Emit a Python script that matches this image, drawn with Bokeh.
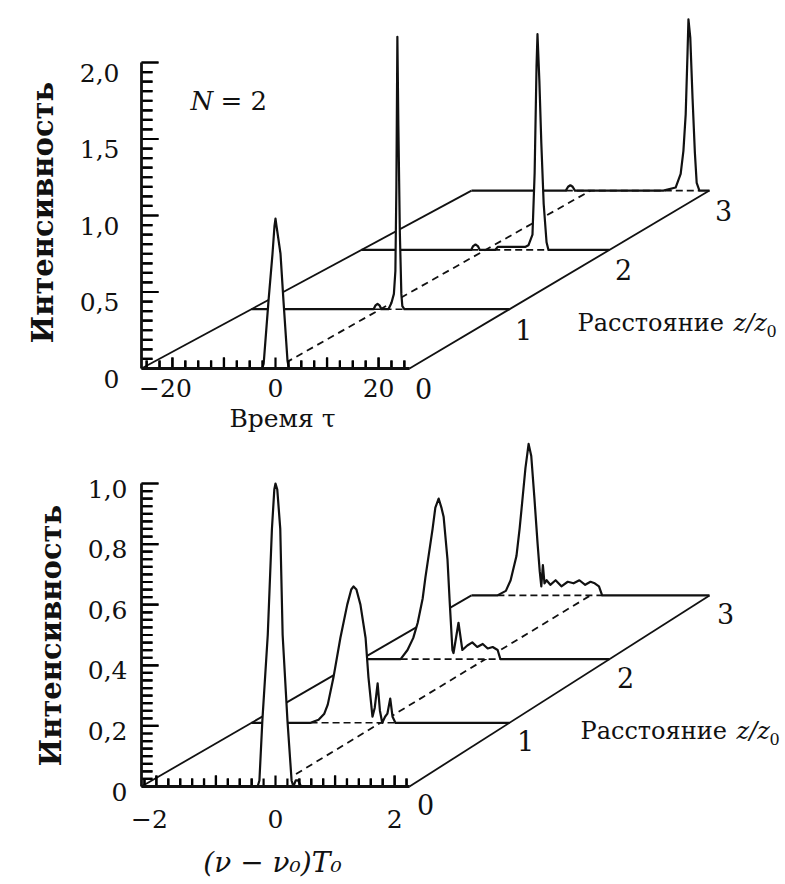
import numpy as np
from bokeh.plotting import figure
from bokeh.layouts import column
from bokeh.models import Range1d, ColumnDataSource
from bokeh.core.properties import value
from bokeh.embed import file_html
from bokeh.resources import INLINE

# ------------------------------------------------------------------ data
# Top panel: intensity vs time tau at distances z/z0 = 0..3 (N = 2)
top_z = [0, 1, 2, 3]
top_tau_z0 = [-2.6, -2.3, -1.36, -0.58, -0.2, 0.0, 0.2, 0.97, 1.55, 2.33, 2.6]
top_int_z0 = [0, 0.03, 0.44, 0.75, 0.93, 0.98, 0.93, 0.75, 0.44, 0.05, 0]
top_tau_z1 = [-1.4, -1.0, -0.6, -0.2, 0.2, 1.6, 2.2, 2.7, 3.0, 3.2, 3.4, 3.6, 3.9, 4.2, 4.4, 4.8]
top_int_z1 = [0, 0.025, 0.035, 0.025, 0, 0, 0.04, 0.1, 0.25, 0.8, 1.78, 1.2, 0.5, 0.1, 0.02, 0]
top_tau_z2 = [-3.0, -2.6, -2.1, -1.6, -1.2, 2.0, 2.6, 8.4, 9.0, 9.85, 10.3, 10.7, 10.9, 11.3, 11.7, 12.2, 12.8, 13.2]
top_int_z2 = [0, 0.025, 0.035, 0.025, 0, 0, 0.02, 0.02, 0.03, 0.1, 0.5, 1.2, 1.41, 1.1, 0.7, 0.3, 0.05, 0]
top_tau_z3 = [-5.4, -4.9, -4.4, -3.9, -3.4, 15.9, 18.6, 19.7, 20.3, 20.8, 21.2, 21.4, 21.8, 22.3, 22.8, 23.2, 23.8]
top_int_z3 = [0, 0.025, 0.035, 0.025, 0, 0, 0.02, 0.11, 0.26, 0.5, 0.9, 1.12, 1.0, 0.6, 0.25, 0.05, 0]
top_tau_range = [-26, 26]
top_tau_ticks = [-20, 0, 20]
top_tau_ticklabels = ["−20", "0", "20"]
top_int_ticks = [0, 0.5, 1.0, 1.5, 2.0]
top_int_ticklabels = ["0", "0,5", "1,0", "1,5", "2,0"]
top_z_ticklabels = ["0", "1", "2", "3"]

# Bottom panel: spectrum vs (nu - nu0)T0 at distances z/z0 = 0..3
bot_z = [0, 1, 2, 3]
bot_nu_z0 = [-0.30, -0.27, -0.22, -0.13, -0.06, -0.02, 0.0, 0.03, 0.08, 0.12, 0.20, 0.27, 0.30, 0.34, 0.38, 0.43]
bot_int_z0 = [0, 0.02, 0.22, 0.5, 0.85, 0.98, 1.0, 0.98, 0.85, 0.5, 0.22, 0.02, 0, 0.02, 0.02, 0]
bot_nu_z1 = [-1.22, -1.08, -0.98, -0.92, -0.82, -0.70, -0.58, -0.51, -0.47, -0.42, -0.35, -0.26,
             -0.21, -0.14, -0.10, -0.05, -0.01, 0.03, 0.08, 0.12, 0.17, 0.21, 0.26]
bot_int_z1 = [0, 0.01, 0.03, 0.06, 0.15, 0.28, 0.39, 0.44, 0.45, 0.44, 0.39, 0.28,
              0.15, 0.02, 0.05, 0.13, 0.04, 0.0, 0.02, 0.03, 0.08, 0.02, 0.0]
bot_nu_z2 = [-1.54, -1.415, -1.31, -1.23, -1.14, -1.09, -0.96, -0.91, -0.85, -0.80, -0.76, -0.69,
             -0.65, -0.60, -0.58, -0.49, -0.42, -0.33, -0.24, -0.15, -0.05, 0.04, 0.13, 0.22, 0.27]
bot_int_z2 = [0, 0.03, 0.07, 0.12, 0.2, 0.27, 0.43, 0.5, 0.53, 0.5, 0.47, 0.33,
              0.19, 0.03, 0.02, 0.12, 0.03, 0.045, 0.055, 0.04, 0.05, 0.035, 0.04, 0.03, 0]
bot_nu_z3 = [-1.76, -1.60, -1.51, -1.40, -1.34, -1.29, -1.23, -1.17, -1.12, -1.06, -1.0, -0.96,
             -0.93, -0.90, -0.87, -0.83, -0.76, -0.66, -0.55, -0.43, -0.32, -0.21, -0.10, 0.0,
             0.08, 0.16, 0.22]
bot_int_z3 = [0, 0.015, 0.05, 0.13, 0.22, 0.31, 0.42, 0.50, 0.46, 0.32, 0.17, 0.08,
              0.03, 0.10, 0.04, 0.05, 0.035, 0.05, 0.03, 0.045, 0.04, 0.05, 0.035, 0.045,
              0.04, 0.03, 0]
bot_nu_range = [-2.25, 2.25]
bot_nu_ticks = [-2, 0, 2]
bot_nu_ticklabels = ["−2", "0", "2"]
bot_int_ticks = [0, 0.2, 0.4, 0.6, 0.8, 1.0]
bot_int_ticklabels = ["0", "0,2", "0,4", "0,6", "0,8", "1,0"]
bot_z_ticklabels = ["0", "1", "2", "3"]

# ------------------------------------------------------------------ style / geometry
INK = "#111111"
SERIF = value("DejaVu Serif")
PAGE_W = 785

TOP = dict(sx=5.154, sy=153.0, dzx=105.0, dzy=59.3, shrink=0.1923, x0=275.0, y0=368.0,
           page_top=0, page_bottom=440, minor_x=2.5, major_x=10.0, minor_y=0.0625, major_y=0.5,
           ymax=2.0)
BOT = dict(sx=59.56, sy=303.0, dzx=105.0, dzy=63.7, shrink=2.222, x0=275.0, y0=786.0,
           page_top=440, page_bottom=884, minor_x=0.2, major_x=1.0, minor_y=0.025, major_y=0.2,
           ymax=1.0)


def proj(P, c, I, z):
    c = np.asarray(c, float)
    I = np.asarray(I, float)
    z = np.asarray(z, float)
    X = c * (1 - P["shrink"] * z / P["sx"]) + z * P["dzx"] / P["sx"]
    Y = I + z * P["dzy"] / P["sy"]
    return X, Y


def make_fig(P):
    h = P["page_bottom"] - P["page_top"]
    xr = Range1d((0 - P["x0"]) / P["sx"], (PAGE_W - P["x0"]) / P["sx"])
    yr = Range1d((P["y0"] - P["page_bottom"]) / P["sy"], (P["y0"] - P["page_top"]) / P["sy"])
    p = figure(width=PAGE_W, height=h, x_range=xr, y_range=yr, output_backend="svg",
               toolbar_location=None, x_axis_location=None, y_axis_location=None,
               min_border=0)
    p.grid.visible = False
    p.outline_line_color = None
    p.background_fill_color = "white"
    p.border_fill_color = "white"
    return p


def tick_source(P, crange):
    cmin, cmax = crange
    x0s, y0s, x1s, y1s = [], [], [], []
    n = int(round((cmax - cmin) / P["minor_x"]))
    for k in range(-n, n + 1):
        t = float(np.round(k * P["minor_x"], 6))
        if not (cmin < t < cmax):
            continue
        major = abs(t / P["major_x"] - round(t / P["major_x"])) < 1e-6
        x0s.append(t); x1s.append(t)
        y0s.append(0.0); y1s.append((11.0 if major else 8.0) / P["sy"])
    m = int(round(P["ymax"] / P["minor_y"]))
    for k in range(1, m + 1):
        t = float(np.round(k * P["minor_y"], 6))
        major = abs(t / P["major_y"] - round(t / P["major_y"])) < 1e-6
        x0s.append(float(cmin)); x1s.append(float(cmin) + (17.0 if major else 11.0) / P["sx"])
        y0s.append(t); y1s.append(t)
    return ColumnDataSource(data=dict(x0=np.array(x0s), y0=np.array(y0s),
                                      x1=np.array(x1s), y1=np.array(y1s)))


def draw_panel(p, P, zs, profiles, crange, xticks, xticklabels, yticks, yticklabels,
               zlabels, xlab_dy, ylab_dx, ylab_dy, zlab_off):
    cmin, cmax = crange
    zmax = max(zs)
    sx, sy = P["sx"], P["sy"]
    # tick marks (drawn first; nothing in front of them is filled)
    src = tick_source(P, crange)
    p.segment(x0="x0", y0="y0", x1="x1", y1="y1", source=src, line_width=2.2,
              line_color="black", line_alpha=1.0)
    # floor frame: left edge, right edge, dashed centre line
    for c, dash in [(cmin, "solid"), (cmax, "solid"), (0.0, "7 5")]:
        X, Y = proj(P, [c, c], [0, 0], [0, zmax])
        p.line(X, Y, line_width=1.8, color=INK, line_dash=dash)
    # traces, back to front, with hidden-line fill
    for z, (cs, Is) in reversed(list(zip(zs, profiles))):
        c_full = [cmin] + list(cs) + [cmax]
        I_full = [0] + list(Is) + [0]
        X, Y = proj(P, c_full, I_full, z)
        p.patch(X, Y, fill_color="white", line_color=None)
        if z > 0:
            Xb, Yb = proj(P, [cs[0], cs[-1]], [0, 0], z)
            p.line(Xb, Yb, line_width=1.6, color=INK, line_dash="7 4")
        p.line(X, Y, line_width=2.2, color=INK, line_join="round")
    # redraw the ticks above the front trace
    p.segment(x0="x0", y0="y0", x1="x1", y1="y1", source=src, line_width=2.2,
              line_color="black", line_alpha=1.0)
    # front axis (z = 0) and vertical intensity axis
    X, Y = proj(P, [cmin, cmax], [0, 0], 0)
    p.line(X, Y, line_width=2.8, color=INK)
    p.line([cmin, cmin], [0, P["ymax"]], line_width=2.8, color=INK)
    # tick labels
    xl = [t - (7 / sx if s.startswith("−") else 0) for t, s in zip(xticks, xticklabels)]
    p.text(xl, [-xlab_dy / sy] * len(xl), text=xticklabels, text_font=SERIF,
           text_font_size="25px", text_align="center", text_baseline="middle", color=INK)
    p.text([cmin - ylab_dx / sx] * len(yticks), [v - ylab_dy / sy for v in yticks],
           text=yticklabels, text_font=SERIF, text_font_size="25px", text_align="right",
           text_baseline="middle", color=INK)
    Xr, Yr = proj(P, [cmax] * len(zs), [0] * len(zs), zs)
    p.text(Xr + zlab_off[0] / sx, Yr - zlab_off[1] / sy, text=zlabels, text_font=SERIF,
           text_font_size="27px", text_align="center", text_baseline="middle", color=INK)


def page_xy(P, x, y):
    return [(x - P["x0"]) / P["sx"]], [(P["y0"] - y) / P["sy"]]


def distance_label(p, P, x, y):
    # "Расстояние z/z0": roman word, italic z/z, lowered small 0
    xs, ys = page_xy(P, x, y)
    p.text(xs, ys, text=["Расстояние"], text_font=SERIF, text_font_size="24px",
           text_align="left", text_baseline="middle", color=INK)
    xs, ys = page_xy(P, x + 156, y)
    p.text(xs, ys, text=["z/z"], text_font=SERIF, text_font_size="24px", text_font_style="italic",
           text_align="left", text_baseline="middle", color=INK)
    xs, ys = page_xy(P, x + 189, y + 8)
    p.text(xs, ys, text=["0"], text_font=SERIF, text_font_size="16px",
           text_align="left", text_baseline="middle", color=INK)


# ------------------------------------------------------------------ top panel
p1 = make_fig(TOP)
draw_panel(p1, TOP, top_z,
           [(top_tau_z0, top_int_z0), (top_tau_z1, top_int_z1),
            (top_tau_z2, top_int_z2), (top_tau_z3, top_int_z3)],
           top_tau_range, top_tau_ticks, top_tau_ticklabels, top_int_ticks, top_int_ticklabels,
           top_z_ticklabels, xlab_dy=19, ylab_dx=22, ylab_dy=10, zlab_off=(14, 20))
x, y = page_xy(TOP, 42, 212)
p1.text(x, y, text=["Интенсивность"], angle=np.pi / 2, text_font=SERIF, text_font_size="29px",
        text_font_style="bold", text_align="center", text_baseline="middle", color=INK)
x, y = page_xy(TOP, 190, 100)
p1.text(x, y, text=["N"], text_font=SERIF, text_font_size="26px", text_font_style="italic",
        text_align="left", text_baseline="middle", color=INK)
x, y = page_xy(TOP, 220, 100)
p1.text(x, y, text=["= 2"], text_font=SERIF, text_font_size="26px",
        text_align="left", text_baseline="middle", color=INK)
x, y = page_xy(TOP, 282, 418)
p1.text(x, y, text=["Время τ"], text_font=SERIF, text_font_size="25px",
        text_align="center", text_baseline="middle", color=INK)
distance_label(p1, TOP, 577, 322)

# ------------------------------------------------------------------ bottom panel
p2 = make_fig(BOT)
draw_panel(p2, BOT, bot_z,
           [(bot_nu_z0, bot_int_z0), (bot_nu_z1, bot_int_z1),
            (bot_nu_z2, bot_int_z2), (bot_nu_z3, bot_int_z3)],
           bot_nu_range, bot_nu_ticks, bot_nu_ticklabels, bot_int_ticks, bot_int_ticklabels,
           bot_z_ticklabels, xlab_dy=32, ylab_dx=14, ylab_dy=5, zlab_off=(16, 18))
x, y = page_xy(BOT, 50, 635)
p2.text(x, y, text=["Интенсивность"], angle=np.pi / 2, text_font=SERIF, text_font_size="29px",
        text_font_style="bold", text_align="center", text_baseline="middle", color=INK)
x, y = page_xy(BOT, 272, 862)
p2.text(x, y, text=["(ν − ν₀)T₀"], text_font=SERIF, text_font_size="28px",
        text_font_style="italic", text_align="center", text_baseline="middle", color=INK)
distance_label(p2, BOT, 580, 730)

layout = column(p1, p2, spacing=0)
open("out.html", "w").write(file_html(layout, INLINE))
